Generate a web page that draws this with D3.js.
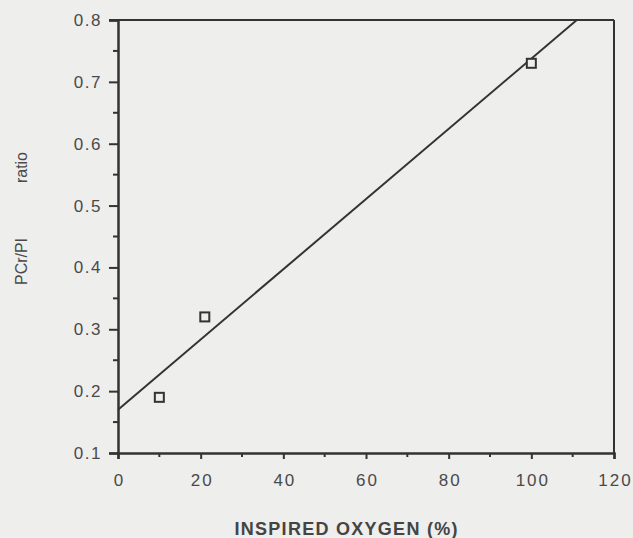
<!DOCTYPE html>
<html>
<head>
<meta charset="utf-8">
<script src="https://cdnjs.cloudflare.com/ajax/libs/d3/7.8.5/d3.min.js"></script>
<style>
  body { margin: 0; background: #eeeeec; }
  svg { display: block; }
</style>
</head>
<body>
<svg></svg>
<script>
// data
const oxygen = [10, 21, 100];
const ratio = [0.19, 0.32, 0.73];
const fitX = [0, 111];
const fitY = [0.17, 0.8];
const xTicks = [0, 20, 40, 60, 80, 100, 120];
const yTicks = [0.1, 0.2, 0.3, 0.4, 0.5, 0.6, 0.7, 0.8];

const width = 633;
const height = 538;
const margin = { top: 20, left: 118, bottom: 85, right: 19 };
const font = "'Liberation Sans', Arial, sans-serif";

const svg = d3.select("svg").attr("width", width).attr("height", height)
  .style("background", "#eeeeec");

const x = d3.scaleLinear().domain([0, 120]).range([margin.left, width - margin.right]);
const y = d3.scaleLinear().domain([0.1, 0.8]).range([height - margin.bottom, margin.top]);

const ink = "#333";

// frame: top and right
svg.append("line")
  .attr("x1", x(0) - 9).attr("x2", x(120))
  .attr("y1", y(0.8)).attr("y2", y(0.8))
  .attr("stroke", ink).attr("stroke-width", 2);
svg.append("line")
  .attr("x1", x(120)).attr("x2", x(120))
  .attr("y1", y(0.8)).attr("y2", y(0.1))
  .attr("stroke", ink).attr("stroke-width", 2);

// minor ticks
const xMinor = d3.range(0, 121, 10).filter(v => v % 20 !== 0);
const yMinor = d3.range(0.15, 0.8, 0.1);

svg.append("g").selectAll("line").data(xMinor).join("line")
  .attr("x1", d => x(d)).attr("x2", d => x(d))
  .attr("y1", y(0.1)).attr("y2", y(0.1) + 4)
  .attr("stroke", ink).attr("stroke-width", 2);
svg.append("g").selectAll("line").data(yMinor).join("line")
  .attr("x1", x(0) - 5).attr("x2", x(0))
  .attr("y1", d => y(d)).attr("y2", d => y(d))
  .attr("stroke", ink).attr("stroke-width", 2);

const xAxis = d3.axisBottom(x).tickValues(xTicks).tickSize(6).tickPadding(15)
  .tickFormat(d3.format("d"));
const gx = svg.append("g")
  .attr("transform", `translate(0,${y(0.1)})`)
  .call(xAxis);
gx.select(".domain").attr("stroke", ink).attr("stroke-width", 2.5);
gx.selectAll(".tick line").attr("stroke", ink).attr("stroke-width", 2);
gx.selectAll(".tick text")
  .attr("dx", 1)
  .style("font-family", font).style("fill", "#4a4a4a")
  .style("font-size", "17px").style("letter-spacing", "2px");

const yAxis = d3.axisLeft(y).tickValues(yTicks).tickSize(9).tickPadding(7)
  .tickFormat(d3.format(".1f"));
const gy = svg.append("g")
  .attr("transform", `translate(${x(0)},0)`)
  .call(yAxis);
gy.select(".domain").attr("stroke", ink).attr("stroke-width", 2.5);
gy.selectAll(".tick line").attr("stroke", ink).attr("stroke-width", 2);
gy.selectAll(".tick text")
  .style("font-family", font).style("fill", "#4a4a4a")
  .style("font-size", "17px").style("letter-spacing", "1.5px");

// fitted line
svg.append("line")
  .attr("x1", x(fitX[0])).attr("y1", y(fitY[0]))
  .attr("x2", x(fitX[1])).attr("y2", y(fitY[1]))
  .attr("stroke", ink).attr("stroke-width", 2);

// points
svg.append("g").selectAll("rect").data(oxygen).join("rect")
  .attr("x", (d, i) => x(d) - 4.5)
  .attr("y", (d, i) => y(ratio[i]) - 4.5)
  .attr("width", 9).attr("height", 9)
  .attr("fill", "#eeeeec")
  .attr("stroke", ink).attr("stroke-width", 2);

// titles
svg.append("text")
  .attr("x", 346).attr("y", 535)
  .attr("text-anchor", "middle")
  .attr("textLength", 223)
  .style("font-family", font)
  .style("font-weight", "bold")
  .style("font-size", "18px")
  .style("fill", "#444")
  .text("INSPIRED OXYGEN (%)");

const yl = svg.append("g").attr("transform", "translate(27,0) rotate(-90)")
  .style("font-family", font)
  .style("font-size", "16px")
  .style("fill", "#4a4a4a");
yl.append("text").attr("x", -285).attr("y", 0).attr("textLength", 47).text("PCr/PI");
yl.append("text").attr("x", -183).attr("y", 0).attr("textLength", 31).text("ratio");
</script>
</body>
</html>
